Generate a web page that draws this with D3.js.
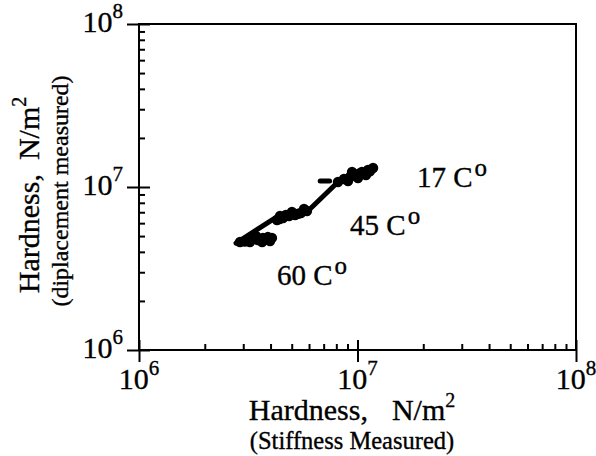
<!DOCTYPE html>
<html>
<head>
<meta charset="utf-8">
<script src="https://cdn.jsdelivr.net/npm/d3@7"></script>
<style>
  body { margin: 0; background: #fff; }
  svg text { font-family: "Liberation Serif", "Times New Roman", serif; fill: #000; stroke: #000; stroke-width: 0.35px; }
</style>
</head>
<body>
<div id="chart"></div>
<script>
// values (N/m^2)
var majorTicks = [1e6, 1e7, 1e8];
var tickExp = ["6", "7", "8"];
var minorTicks = [2e6, 3e6, 4e6, 5e6, 6e6, 7e6, 8e6, 9e6, 2e7, 3e7, 4e7, 5e7, 6e7, 7e7, 8e7, 9e7];

// [stiffness measured, displacement measured]
var pts60 = [[2.90e6, 4.60e6], [3.12e6, 4.73e6], [3.32e6, 4.87e6], [3.50e6, 4.73e6], [3.69e6, 4.87e6],
             [3.89e6, 4.93e6], [4.06e6, 4.87e6], [3.43e6, 5.01e6], [3.66e6, 4.60e6], [3.98e6, 4.66e6],
             [3.22e6, 4.60e6], [3.80e6, 4.75e6], [3.05e6, 4.62e6]];
var pts45 = [[4.28e6, 6.27e6], [4.56e6, 6.45e6], [4.86e6, 6.64e6], [5.18e6, 6.73e6], [5.51e6, 6.92e6],
             [5.87e6, 7.12e6], [4.42e6, 6.64e6], [5.01e6, 7.02e6], [5.69e6, 7.33e6], [4.70e6, 6.73e6],
             [5.35e6, 6.85e6], [4.40e6, 6.35e6]];
var pts17 = [[8.14e6, 1.073e7], [8.67e6, 1.12e7], [9.24e6, 1.151e7], [9.84e6, 1.184e7], [1.048e7, 1.236e7],
             [1.117e7, 1.272e7], [1.178e7, 1.308e7], [9.05e6, 1.088e7], [1.005e7, 1.136e7], [1.094e7, 1.184e7],
             [9.44e6, 1.236e7], [1.02e7, 1.21e7], [1.14e7, 1.25e7]];
var trend = [[2.78e6, 4.53e6], [4.19e6, 6.45e6], [6.06e6, 7.33e6], [8.14e6, 1.073e7], [1.178e7, 1.308e7]];
var dash17 = [[6.75e6, 1.09e7], [7.45e6, 1.09e7]];

var tempLabels = ["17 C", "45 C", "60 C"];
var tempLabelAt = [[1.87e7, 1.0e7], [9.25e6, 5.08e6], [4.28e6, 2.5e6]];

var W = 596, H = 456;
var svg = d3.select('#chart').append('svg').attr('width', W).attr('height', H);

var x = d3.scaleLog().domain([1e6, 1e8]).range([139, 576]);
var y = d3.scaleLog().domain([1e6, 1e8]).range([350, 24]);

// frame
svg.append('rect')
    .attr('x', 139).attr('y', 24)
    .attr('width', 576 - 139).attr('height', 350 - 24)
    .attr('fill', 'none').attr('stroke', '#000').attr('stroke-width', 2);

// axes: major ticks cross the axis line, minor ticks point inward
function axisStyle(g) {
    g.select('.domain').remove();
    g.selectAll('line').attr('stroke', '#000').attr('stroke-width', 2);
    g.selectAll('text').remove();
}
svg.append('g').attr('transform', 'translate(0,350)')
    .call(d3.axisBottom(x).tickValues(majorTicks).tickSize(12)).call(axisStyle);
svg.append('g').attr('transform', 'translate(0,350)')
    .call(d3.axisBottom(x).tickValues(majorTicks).tickSize(-10)).call(axisStyle);
svg.append('g').attr('transform', 'translate(0,350)')
    .call(d3.axisBottom(x).tickValues(minorTicks).tickSize(-6)).call(axisStyle);

svg.append('g').attr('transform', 'translate(139,0)')
    .call(d3.axisLeft(y).tickValues(majorTicks).tickSize(12)).call(axisStyle);
svg.append('g').attr('transform', 'translate(139,0)')
    .call(d3.axisLeft(y).tickValues(majorTicks).tickSize(-11)).call(axisStyle);
svg.append('g').attr('transform', 'translate(139,0)')
    .call(d3.axisLeft(y).tickValues(minorTicks).tickSize(-6)).call(axisStyle);

// tick labels 10^n
majorTicks.forEach(function(v, i) {
    var t = svg.append('text').attr('x', x(v)).attr('y', 389)
        .attr('text-anchor', 'middle').attr('font-size', 30).text('10');
    t.append('tspan').attr('dy', -14).attr('font-size', 21).text(tickExp[i]);

    var ty = svg.append('text').attr('x', 123).attr('y', y(v) + 8)
        .attr('text-anchor', 'end').attr('font-size', 30).text('10');
    ty.append('tspan').attr('dy', -14).attr('font-size', 21).text(tickExp[i]);
});

// axis titles
var xt = svg.append('text').attr('x', 352).attr('y', 420)
    .attr('text-anchor', 'middle').attr('font-size', 30).text('Hardness,');
xt.append('tspan').attr('dx', 24).text('N/m');
xt.append('tspan').attr('dy', -13).attr('font-size', 20).text('2');
svg.append('text').attr('x', 352).attr('y', 449)
    .attr('text-anchor', 'middle').attr('font-size', 24.5).text('(Stiffness Measured)');

var yt = svg.append('text').attr('transform', 'translate(39,195) rotate(-90)')
    .attr('text-anchor', 'middle').attr('font-size', 30).text('Hardness,');
yt.append('tspan').attr('dx', 14).text('N/m');
yt.append('tspan').attr('dy', -13).attr('font-size', 20).text('2');
svg.append('text').attr('transform', 'translate(68,191) rotate(-90)')
    .attr('text-anchor', 'middle').attr('font-size', 24).text('(diplacement measured)');

// data
var line = d3.line().x(function(d) { return x(d[0]); }).y(function(d) { return y(d[1]); });
svg.append('path').datum(trend).attr('d', line)
    .attr('fill', 'none').attr('stroke', '#000').attr('stroke-width', 5)
    .attr('stroke-linecap', 'round').attr('stroke-linejoin', 'round');
svg.append('path').datum(dash17).attr('d', line)
    .attr('fill', 'none').attr('stroke', '#000').attr('stroke-width', 5).attr('stroke-linecap', 'round');

svg.append('g').selectAll('circle').data(pts60.concat(pts45, pts17)).enter()
    .append('circle')
    .attr('cx', function(d) { return x(d[0]); })
    .attr('cy', function(d) { return y(d[1]); })
    .attr('r', 5.2).attr('fill', '#000');

// temperature labels
tempLabels.forEach(function(s, i) {
    var t = svg.append('text')
        .attr('x', x(tempLabelAt[i][0])).attr('y', y(tempLabelAt[i][1]))
        .attr('font-size', 29).text(s);
    t.append('tspan').attr('dx', 2).attr('dy', -11).attr('font-size', 25).text('o');
});
</script>
</body>
</html>
